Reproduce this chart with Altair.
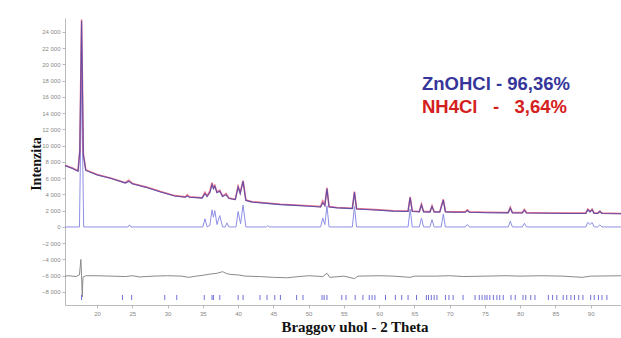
import altair as alt
import pandas as pd

# ---- data ----
obs_x = [15.4, 16.5, 17.3, 17.55, 17.8, 18.05, 18.4, 20, 22, 24, 24.5, 25, 27, 29, 31, 32.5, 32.8, 33.1,
         34.9, 35.3, 35.6, 36.0, 36.3, 36.5, 36.7, 37.0, 37.4, 37.8, 38.3, 38.7, 39.6, 40.0, 40.3, 40.7,
         41.1, 42, 44, 46, 48, 50, 51.7, 52.0, 52.3, 52.6, 52.9, 54, 56.2, 56.5, 56.8, 58, 60, 62, 64.1,
         64.4, 64.7, 65.7, 66.0, 66.3, 67.2, 67.5, 67.8, 68.6, 69.1, 69.4, 70.5, 72.2, 72.5, 72.8, 75,
         78.3, 78.6, 78.9, 80.3, 80.6, 80.9, 84, 87, 89.3, 89.6, 89.9, 90.2, 90.5, 91.0, 91.3, 91.6, 94.5]
obs_y = [7600, 7250, 6900, 9500, 25500, 9000, 7000, 6450, 6000, 5450, 5750, 5350, 4900, 4350, 3850, 3700, 3950, 3700,
         3600, 4250, 3800, 4400, 5450, 4800, 5100, 4300, 4500, 3800, 4100, 3550, 3400, 5000, 4200, 5700,
         3300, 3100, 2950, 2800, 2700, 2600, 2500, 3200, 2700, 4800, 2500, 2400, 2300, 4350, 2250, 2200, 2100, 2000, 1950,
         3700, 1950, 1900, 2800, 1900, 1880, 2600, 1880, 1870, 3400, 1900, 1850, 1850, 2100, 1850, 1800,
         1780, 2400, 1780, 1760, 2150, 1760, 1720, 1700, 1700, 2200, 1900, 2200, 1700, 1700, 1950, 1700, 1650]
calc_y = [7550, 7200, 6850, 9300, 25300, 8900, 6950, 6400, 5950, 5400, 5600, 5300, 4850, 4300, 3800, 3650, 3800, 3650,
          3550, 4100, 3750, 4200, 5200, 4700, 5000, 4200, 4400, 3750, 3950, 3500, 3350, 4900, 4100, 5600,
          3250, 3050, 2900, 2750, 2650, 2550, 2450, 2950, 2650, 4700, 2450, 2350, 2250, 4250, 2200, 2150, 2050, 1950, 1900,
          3600, 1900, 1850, 2700, 1850, 1830, 2500, 1830, 1820, 3300, 1850, 1800, 1800, 2000, 1800, 1750,
          1730, 2300, 1730, 1710, 2050, 1710, 1680, 1660, 1660, 2100, 1850, 2100, 1660, 1660, 1900, 1660, 1620]

phase_x = [15.4, 17.5, 17.8, 18.1, 24.4, 24.6, 24.8, 35.0, 35.3, 35.6, 36.0, 36.3, 36.5, 36.7, 37.0, 37.4, 37.8,
           38.2, 38.4, 38.7, 39.7, 40.0, 40.35, 40.7, 41.1, 44.0, 44.2, 44.4, 51.7, 52.0, 52.3, 52.6, 52.9,
           56.2, 56.5, 56.8, 64.1, 64.4, 64.7, 65.7, 66.0, 66.3, 67.2, 67.5, 67.8, 68.8, 69.1, 69.4, 72.2,
           72.5, 72.8, 78.3, 78.6, 78.9, 80.3, 80.6, 80.9, 89.3, 89.6, 89.9, 90.2, 90.5, 91.0, 91.3, 91.6, 94.5]
phase_y = [0, 0, 18500, 0, 0, 250, 0, 0, 1000, 0, 200, 2100, 1200, 2000, 300, 1400, 0,
           0, 500, 0, 0, 1900, 400, 2700, 0, 0, 150, 0, 0, 1100, 300, 2600, 0,
           0, 2500, 0, 0, 2200, 0, 0, 1100, 0, 0, 900, 0, 0, 1600, 0, 0,
           300, 0, 0, 700, 0, 0, 450, 0, 0, 550, 300, 550, 0, 0, 250, 0, 0]

diff_x = [15.4, 16, 17, 17.5, 17.7, 17.8, 17.9, 18.0, 18.4, 20, 22, 24, 25, 26, 28, 30, 32, 33, 34, 35, 36,
          37, 37.8, 38.4, 39, 40, 41, 43, 45, 47, 48, 50, 52, 52.6, 53, 55, 56.5, 57, 60, 62, 64.4, 65,
          68, 70, 72, 75, 78, 80, 83, 86, 88.8, 90, 94.5]
diff_y = [-6050, -6000, -6100, -5900, -4000, -6000, -8600, -6200, -6000, -6000, -6050, -6100, -6000, -6150,
          -6050, -6000, -6050, -6200, -6050, -5950, -5800, -5700, -5500, -5750, -5850, -5900, -6050, -6100,
          -6200, -6250, -6150, -6000, -6100, -5700, -6200, -6050, -6350, -6050, -6000, -6050, -6200, -6050,
          -6050, -6000, -6100, -6050, -6000, -6050, -6000, -6050, -6200, -6050, -6000]

refl = [17.8, 23.6, 24.9, 29.6, 31.3, 35.2, 36.3, 36.5, 37.4, 40.0, 40.7, 43.1, 44.1, 45.2, 46.0, 48.3, 49.2,
        51.9, 52.2, 52.6, 54.7, 55.3, 56.6, 57.7, 58.6, 59.0, 59.4, 60.9, 62.3, 63.2, 64.1, 65.3, 66.7, 67.0,
        67.4, 67.8, 68.2, 69.4, 69.9, 70.5, 71.9, 73.6, 74.2, 74.6, 75.0, 75.3, 75.7, 76.2, 76.7, 77.1, 77.6,
        78.7, 79.3, 80.4, 80.8, 81.5, 82.1, 84.0, 84.6, 85.2, 86.1, 86.6, 87.2, 87.7, 88.3, 88.9, 90.0, 90.5,
        91.1, 91.6, 92.3]

y_ticks = [-8000, -6000, -4000, -2000, 0, 2000, 4000, 6000, 8000, 10000, 12000, 14000, 16000, 18000,
           20000, 22000, 24000]
x_ticks = [20, 25, 30, 35, 40, 45, 50, 55, 60, 65, 70, 75, 80, 85, 90]

NB = "\u00a0"
legend_lines = ["ZnOHCl - 96,36%", "NH4Cl" + NB * 3 + "-" + NB * 3 + "3,64%"]

# ---- tables ----
tot = pd.DataFrame({"x": obs_x, "obs": obs_y, "calc": calc_y})
ph = pd.DataFrame({"x": phase_x, "y": phase_y})
df_diff = pd.DataFrame({"x": diff_x, "y": diff_y})
df_refl = pd.DataFrame({"x": refl})

W, H = 556, 287
xs = alt.Scale(domain=[15.45, 94.3], nice=False, zero=False)
ys = alt.Scale(domain=[-9600, 25700], nice=False, zero=False)

xax = alt.Axis(values=x_ticks, title=None, grid=False, labelOverlap=False, labelFlush=False)
yax = alt.Axis(values=y_ticks, title=None, grid=False, labelOverlap=False, labelFlush=False,
               labelExpr="replace(format(datum.value, ','), ',', ' ')")

X = alt.X("x:Q", scale=xs, axis=xax)

phase_line = alt.Chart(ph).mark_line(color="#8f8fe6", strokeWidth=1, clip=True).encode(
    x=X, y=alt.Y("y:Q", scale=ys, axis=yax))
obs_line = alt.Chart(tot).mark_line(color="#e8708e", strokeWidth=1.6, clip=True).encode(
    x=X, y=alt.Y("obs:Q", scale=ys, axis=yax))
calc_line = alt.Chart(tot).mark_line(color="#4a46a8", strokeWidth=1.1, opacity=0.85, clip=True).encode(
    x=X, y=alt.Y("calc:Q", scale=ys, axis=yax))
diff_line = alt.Chart(df_diff).mark_line(color="#8a8a8a", strokeWidth=1, clip=True).encode(
    x=X, y=alt.Y("y:Q", scale=ys, axis=yax))
ticks = alt.Chart(df_refl).mark_rule(color="#7070d8", strokeWidth=1).encode(
    x=X, y=alt.value(277), y2=alt.value(282))

leg1 = alt.Chart(pd.DataFrame({"t": [legend_lines[0]]})).mark_text(
    align="left", baseline="middle", font="Liberation Sans", fontWeight="bold", fontSize=18.5, color="#35359a"
).encode(text="t:N", x=alt.value(357), y=alt.value(66))
leg2 = alt.Chart(pd.DataFrame({"t": [legend_lines[1]]})).mark_text(
    align="left", baseline="middle", font="Liberation Sans", fontWeight="bold", fontSize=18.5, color="#d42020"
).encode(text="t:N", x=alt.value(357), y=alt.value(89))

ytitle = alt.Chart(pd.DataFrame({"t": ["Intenzita"]})).mark_text(
    align="center", baseline="middle", angle=270, font="Liberation Serif", fontWeight="bold", fontSize=14,
    color="#111111").encode(text="t:N", x=alt.value(-28), y=alt.value(146))
xtitle = alt.Chart(pd.DataFrame({"t": ["Braggov uhol - 2 Theta"]})).mark_text(
    align="center", baseline="middle", font="Liberation Serif", fontWeight="bold", fontSize=15,
    color="#111111").encode(text="t:N", x=alt.value(290), y=alt.value(309))

chart = alt.layer(phase_line, diff_line, obs_line, calc_line, ticks, leg1, leg2, ytitle, xtitle).properties(
    width=W, height=H,
    autosize=alt.AutoSizeParams(type="none"),
    padding={"left": 65, "top": 18, "right": 0, "bottom": 33},
    background="white",
).configure_view(stroke=None).configure_axis(
    labelFontSize=6, labelColor="#888888", labelFont="Liberation Sans",
    domainColor="#bbbbbb", tickColor="#bbbbbb", tickSize=3, labelPadding=2,
    labelOverlap=False, labelFlush=False,
)

chart.save("out.html", embed_options={"renderer": "svg", "actions": False})
